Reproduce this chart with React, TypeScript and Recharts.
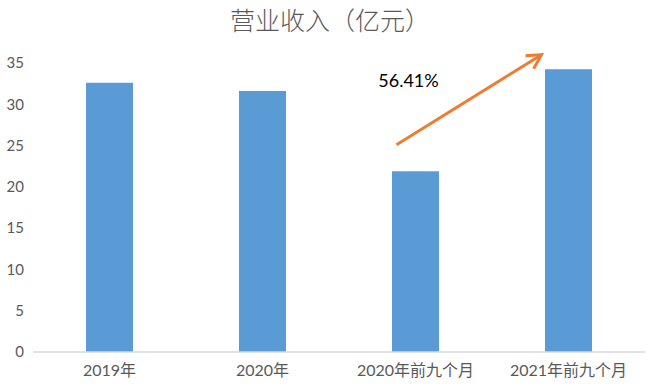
import React from "react";
import { BarChart, Bar, XAxis, YAxis, ReferenceLine } from "recharts";

const categories = ["2019年", "2020年", "2020年前九个月", "2021年前九个月"];
const revenue = [32.6, 31.6, 21.9, 34.25];
const yTicks = [0, 5, 10, 15, 20, 25, 30, 35];
const growthLabel = "56.41%";
const arrowFrom = { x: "2020年前九个月", y: 25.1 };
const arrowTo = { x: "2021年前九个月", y: 36 };

const data = categories.map((name, i) => ({ name, value: revenue[i] }));

const FONT = "Lato, 'Noto Sans CJK SC', sans-serif";

// arrow drawn between the two nine-month categories, nudged left of centre
function GrowthArrow(props: any) {
  const { x1, y1, x2, y2 } = props;
  const sx = x1 - 19;
  const ex = x2 - 27;
  const ang = Math.atan2(y2 - y1, ex - sx);
  const head = 16;
  const a1 = ang + Math.PI - 0.5;
  const a2 = ang + Math.PI + 0.5;
  return (
    <g>
      <line x1={sx} y1={y1} x2={ex} y2={y2} stroke="#ED7D31" strokeWidth={3} />
      <polyline
        points={`${ex + head * Math.cos(a1)},${y2 + head * Math.sin(a1)} ${ex},${y2} ${ex + head * Math.cos(a2)},${y2 + head * Math.sin(a2)}`}
        fill="none"
        stroke="#ED7D31"
        strokeWidth={3}
      />
      <text x={sx + 12} y={y1 - 62} textAnchor="middle" dominantBaseline="middle" fontSize={18} fontFamily={FONT} fill="#000">
        {growthLabel}
      </text>
    </g>
  );
}

export default function App() {
  return (
    <div style={{ position: "absolute", left: 0, top: 0, width: 660, height: 390, background: "#fff" }}>
      <div
        style={{
          position: "absolute",
          top: 5,
          width: 660,
          textAlign: "center",
          fontFamily: FONT,
          fontSize: 25,
          fontWeight: 300,
          color: "#595959",
          lineHeight: "30px",
        }}
      >
        营业收入（亿元）
      </div>
      <BarChart
        width={660}
        height={390}
        data={data}
        margin={{ top: 63, right: 15, bottom: 8, left: 0 }}
      >
        <XAxis
          dataKey="name"
          height={30}
          tickLine={false}
          tickSize={0}
          tickMargin={13}
          axisLine={{ stroke: "#D9D9D9", strokeWidth: 1.5 }}
          tick={{ fill: "#595959", fontSize: 16, fontFamily: FONT }}
          interval={0}
        />
        <YAxis
          width={33}
          domain={[0, 35]}
          ticks={yTicks}
          axisLine={false}
          tickLine={false}
          tickSize={0}
          tickMargin={9}
          tick={{ fill: "#595959", fontSize: 15, fontFamily: FONT }}
        />
        <Bar dataKey="value" fill="#5B9BD5" barSize={47} isAnimationActive={false} />
        <ReferenceLine
          segment={[arrowFrom, arrowTo]}
          ifOverflow="visible"
          shape={<GrowthArrow />}
        />
      </BarChart>
    </div>
  );
}
